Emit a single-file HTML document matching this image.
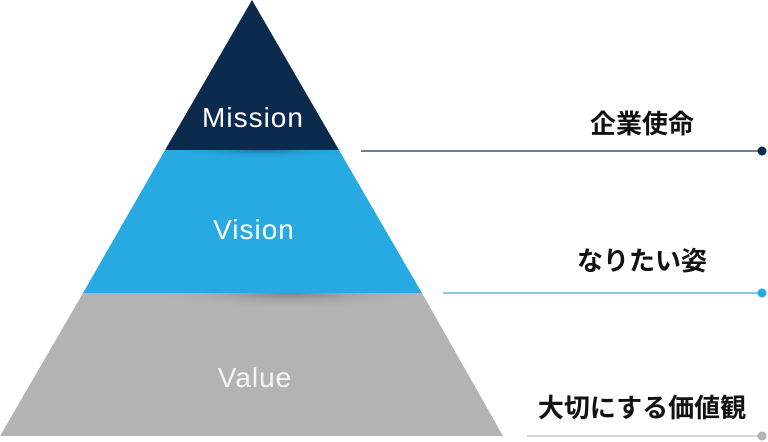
<!DOCTYPE html>
<html><head><meta charset="utf-8"><style>
html,body{margin:0;padding:0;background:#fff;}
svg{display:block}
</style></head><body>
<svg width="768" height="442" viewBox="0 0 768 442" xmlns="http://www.w3.org/2000/svg">
<defs>
<radialGradient id="sh1" cx="0.5" cy="0.5" r="0.5">
<stop offset="0" stop-color="#1b6f9e" stop-opacity="0.9"/>
<stop offset="1" stop-color="#27a9e1" stop-opacity="0"/>
</radialGradient>
<radialGradient id="sh2" cx="0.5" cy="0.5" r="0.5">
<stop offset="0" stop-color="#7a7a7a" stop-opacity="0.9"/>
<stop offset="1" stop-color="#b3b3b3" stop-opacity="0"/>
</radialGradient>
</defs>
<polygon points="83,293 422,293 503,436 0,436" fill="#b3b3b3"/>
<ellipse cx="290" cy="293" rx="140" ry="16" fill="url(#sh2)"/>
<polygon points="165,150 339,150 422,293 83,293" fill="#27a9e1"/>
<ellipse cx="262" cy="150" rx="90" ry="9" fill="url(#sh1)"/>
<polygon points="252,0 339,150 165,150" fill="#0b2a4e"/>
<g font-family="Liberation Sans, sans-serif" fill="#fff" text-anchor="middle" font-size="28" letter-spacing="1">
<text x="253" y="127">Mission</text>
<text x="254" y="239">Vision</text>
<text x="255" y="387" fill="#f4f4f4">Value</text>
</g>
<line x1="361" y1="151" x2="762" y2="151" stroke="#3a5677" stroke-width="1.5"/>
<circle cx="762" cy="151" r="4.5" fill="#0b2a4e"/>
<line x1="443" y1="293" x2="762" y2="293" stroke="#5ab8e6" stroke-width="1.5"/>
<circle cx="762" cy="293" r="4.5" fill="#27a9e1"/>
<line x1="527" y1="436" x2="762" y2="436" stroke="#c8c8c8" stroke-width="1.5"/>
<circle cx="762" cy="436" r="4.5" fill="#b3b3b3"/>
<g font-family="Liberation Sans, Noto Sans CJK JP, sans-serif" font-weight="bold" fill="#111" font-size="26" text-anchor="middle">
<text x="642" y="133">企業使命</text>
<text x="642" y="270">なりたい姿</text>
<text x="642" y="417">大切にする価値観</text>
</g>
</svg>
</body></html>
